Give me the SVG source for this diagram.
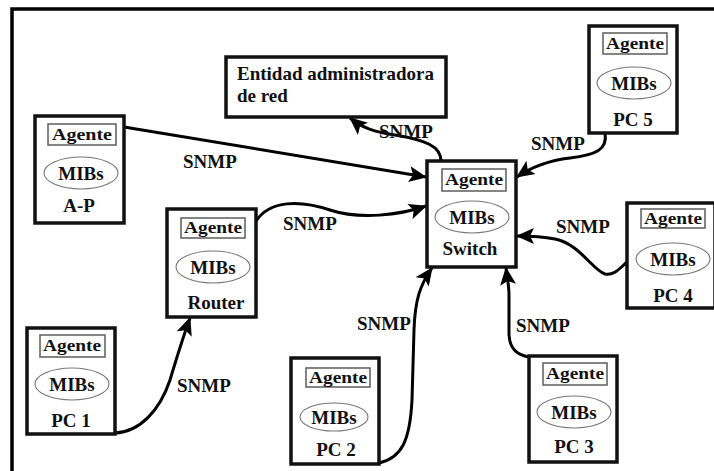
<svg xmlns="http://www.w3.org/2000/svg" width="714" height="471" viewBox="0 0 714 471">
  <style>
    .frame { fill: none; stroke: #000; stroke-width: 3.5; }
    .box { fill: #fff; stroke: #111; stroke-width: 3.5; }
    .agbox { fill: none; stroke: #666; stroke-width: 1.6; }
    .mib { fill: none; stroke: #777; stroke-width: 1.1; }
    text { font-family: 'Liberation Serif', 'DejaVu Serif', serif; font-weight: bold; fill: #111; }
    .lbl { font-size: 19px; text-anchor: middle; }
    .ag { font-size: 16px; text-anchor: middle; }
    .snmp { font-size: 19px; }
    .link { fill: none; stroke: #000; stroke-width: 3; marker-end: url(#head); }
  </style>
  <defs>
    <marker id="head" viewBox="0 0 18 16" refX="17" refY="8" markerWidth="18" markerHeight="17" markerUnits="userSpaceOnUse" orient="auto">
      <path d="M0,0 L18,8 L0,16 L4,8 z" fill="#000"/>
    </marker>
  </defs>
  <rect width="714" height="471" fill="#fff"/>
  <rect class="frame" x="12" y="9" width="720" height="480"/>

  <g font-family="Liberation Serif, DejaVu Serif, serif" font-weight="bold">
  <!-- connectors -->
  <g id="connectors">
    <path class="link" d="M124,127 L426,177"/>
    <path class="link" d="M256,221 C270,200 300,200 330,210 S400,215 426,206"/>
    <path class="link" d="M441,161 C441,146 425,140 395,135 C375,132 362,128 350,118"/>
    <path class="link" d="M605,133 C608,150 595,155 570,158 C545,161 530,168 517,177"/>
    <path class="link" d="M627,262 C620,268 614,276 605,274 C592,270 580,244 555,239 C540,236 528,236 517,236"/>
    <path class="link" d="M529,357 C518,355 510,350 509,335 L509,295 C509,285 507,276 506,268"/>
    <path class="link" d="M379,463 C402,458 410,440 412,400 L414,330 C415,300 420,285 432,268"/>
    <path class="link" d="M115,433 C140,432 160,410 170,380 C176,360 182,340 190,318"/>
    <text class="snmp" x="183" y="168">SNMP</text>
    <text class="snmp" x="283" y="230">SNMP</text>
    <text class="snmp" x="379" y="138">SNMP</text>
    <text class="snmp" x="531" y="150">SNMP</text>
    <text class="snmp" x="556" y="233">SNMP</text>
    <text class="snmp" x="516" y="332">SNMP</text>
    <text class="snmp" x="357" y="330">SNMP</text>
    <text class="snmp" x="177" y="392">SNMP</text>
  </g>

  <g id="entidad">
    <rect class="box" x="226" y="57" width="220" height="60"/>
    <text x="237" y="80" font-size="19">Entidad administradora</text>
    <text x="237" y="102" font-size="19">de red</text>
  </g>

  <g id="ap">
    <rect class="box" x="35" y="116" width="89" height="107"/>
    <rect class="agbox" x="48" y="124" width="68" height="21"/>
    <text class="ag" x="82" y="140" textLength="60" lengthAdjust="spacingAndGlyphs">Agente</text>
    <ellipse class="mib" cx="81" cy="173" rx="37" ry="16"/>
    <text class="lbl" x="81" y="180">MIBs</text>
    <text class="lbl" x="79" y="212">A-P</text>
  </g>

  <g id="router">
    <rect class="box" x="167" y="209" width="89" height="108"/>
    <rect class="agbox" x="181" y="218" width="64" height="20"/>
    <text class="ag" x="213" y="233" textLength="58" lengthAdjust="spacingAndGlyphs">Agente</text>
    <ellipse class="mib" cx="213" cy="267" rx="37" ry="16"/>
    <text class="lbl" x="213" y="274">MIBs</text>
    <text class="lbl" x="216" y="309">Router</text>
  </g>

  <g id="switch">
    <rect class="box" x="427" y="161" width="89" height="106"/>
    <rect class="agbox" x="442" y="169" width="64" height="22"/>
    <text class="ag" x="474" y="185" textLength="58" lengthAdjust="spacingAndGlyphs">Agente</text>
    <ellipse class="mib" cx="472" cy="217" rx="37" ry="16"/>
    <text class="lbl" x="472" y="224">MIBs</text>
    <text class="lbl" x="470" y="255" font-size="20">Switch</text>
  </g>

  <g id="pc5">
    <rect class="box" x="589" y="26" width="88" height="107"/>
    <rect class="agbox" x="603" y="33" width="64" height="21"/>
    <text class="ag" x="635" y="49" textLength="58" lengthAdjust="spacingAndGlyphs">Agente</text>
    <ellipse class="mib" cx="634" cy="83" rx="37" ry="16"/>
    <text class="lbl" x="634" y="90">MIBs</text>
    <text class="lbl" x="633" y="126">PC 5</text>
  </g>

  <g id="pc4">
    <rect class="box" x="627" y="203" width="88" height="105"/>
    <rect class="agbox" x="641" y="209" width="64" height="19"/>
    <text class="ag" x="673" y="224" textLength="58" lengthAdjust="spacingAndGlyphs">Agente</text>
    <ellipse class="mib" cx="673" cy="259" rx="37" ry="16"/>
    <text class="lbl" x="673" y="266">MIBs</text>
    <text class="lbl" x="673" y="302">PC 4</text>
  </g>

  <g id="pc3">
    <rect class="box" x="529" y="356" width="88" height="106"/>
    <rect class="agbox" x="543" y="363" width="64" height="22"/>
    <text class="ag" x="575" y="379" textLength="58" lengthAdjust="spacingAndGlyphs">Agente</text>
    <ellipse class="mib" cx="574" cy="412" rx="37" ry="16"/>
    <text class="lbl" x="574" y="419">MIBs</text>
    <text class="lbl" x="574" y="453">PC 3</text>
  </g>

  <g id="pc2">
    <rect class="box" x="291" y="358" width="88" height="106"/>
    <rect class="agbox" x="306" y="368" width="64" height="19"/>
    <text class="ag" x="338" y="383" textLength="58" lengthAdjust="spacingAndGlyphs">Agente</text>
    <ellipse class="mib" cx="334" cy="417" rx="34" ry="14"/>
    <text class="lbl" x="334" y="424">MIBs</text>
    <text class="lbl" x="336" y="456">PC 2</text>
  </g>

  <g id="pc1">
    <rect class="box" x="27" y="328" width="88" height="106"/>
    <rect class="agbox" x="40" y="335" width="65" height="22"/>
    <text class="ag" x="72" y="351" textLength="58" lengthAdjust="spacingAndGlyphs">Agente</text>
    <ellipse class="mib" cx="72" cy="384" rx="37" ry="16"/>
    <text class="lbl" x="72" y="391">MIBs</text>
    <text class="lbl" x="71" y="427">PC 1</text>
  </g>
  </g>
</svg>
